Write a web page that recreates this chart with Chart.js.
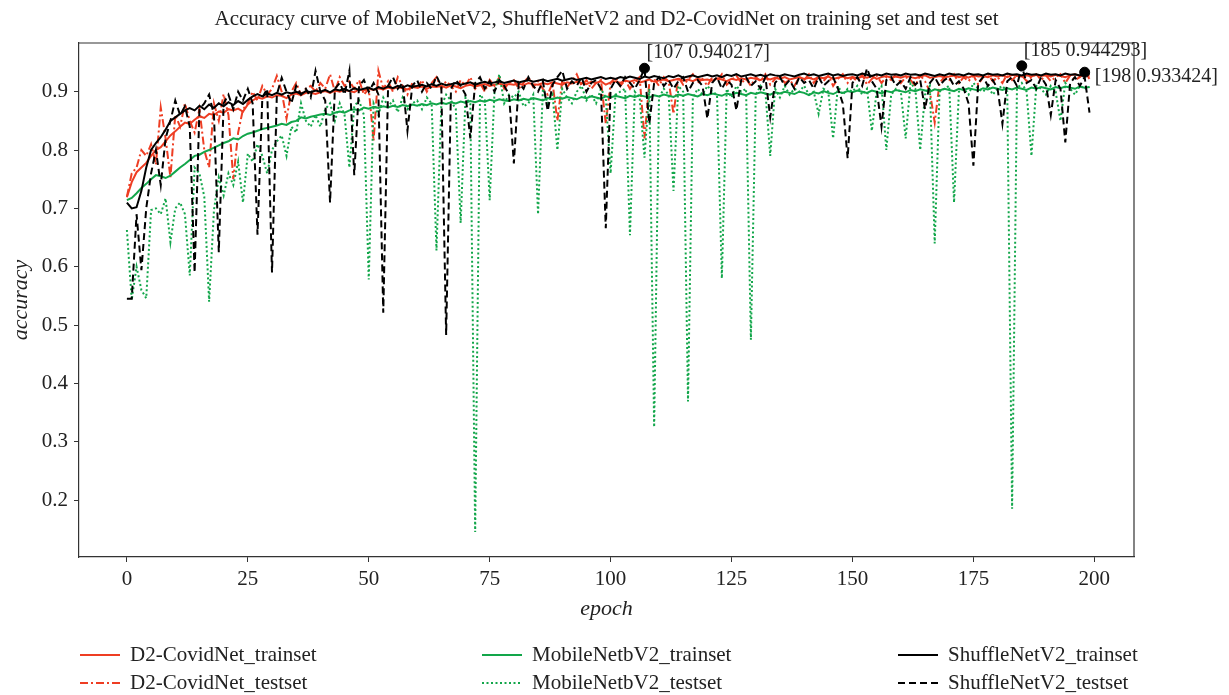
<!DOCTYPE html>
<html><head><meta charset="utf-8">
<script src="https://cdn.jsdelivr.net/npm/chart.js@4.4.0/dist/chart.umd.min.js"></script>
<style>html,body{margin:0;padding:0;background:#fff;} canvas{display:block;}</style>
</head><body>
<canvas id="c" width="1229" height="695"></canvas>
<script>
const titleText = "Accuracy curve of MobileNetV2, ShuffleNetV2 and D2-CovidNet on training set and test set";
const xTicks = [0,25,50,75,100,125,150,175,200];
const yTicks = [0.2,0.3,0.4,0.5,0.6,0.7,0.8,0.9];
const seriesNames = ["D2-CovidNet_trainset","D2-CovidNet_testset","MobileNetbV2_trainset","MobileNetbV2_testset","ShuffleNetV2_trainset","ShuffleNetV2_testset"];

const d2Train = [
0.719,0.745,0.762,0.770,0.778,0.790,0.800,0.805,0.815,0.825,
0.832,0.840,0.847,0.845,0.852,0.858,0.855,0.862,0.860,0.866,
0.864,0.870,0.868,0.871,0.866,0.878,0.885,0.890,0.888,0.892,
0.890,0.894,0.893,0.889,0.895,0.897,0.894,0.898,0.898,0.896,
0.899,0.901,0.898,0.902,0.900,0.903,0.901,0.899,0.904,0.902,
0.905,0.903,0.906,0.904,0.907,0.905,0.908,0.906,0.904,0.908,
0.907,0.909,0.905,0.909,0.908,0.910,0.907,0.911,0.909,0.906,
0.910,0.912,0.909,0.911,0.913,0.910,0.912,0.914,0.911,0.913,
0.912,0.914,0.911,0.915,0.913,0.912,0.915,0.913,0.916,0.914,
0.912,0.916,0.914,0.917,0.915,0.913,0.917,0.915,0.918,0.912,
0.916,0.918,0.915,0.919,0.917,0.920,0.916,0.918,0.921,0.917,
0.919,0.921,0.918,0.920,0.922,0.919,0.921,0.918,0.922,0.920,
0.921,0.919,0.923,0.921,0.918,0.922,0.920,0.923,0.921,0.924,
0.922,0.920,0.923,0.921,0.924,0.922,0.925,0.921,0.923,0.925,
0.922,0.924,0.921,0.925,0.923,0.926,0.922,0.924,0.926,0.923,
0.925,0.923,0.926,0.924,0.927,0.922,0.925,0.927,0.924,0.926,
0.924,0.927,0.925,0.923,0.926,0.928,0.924,0.925,0.927,0.925,
0.926,0.928,0.925,0.927,0.924,0.928,0.926,0.927,0.925,0.928,
0.926,0.928,0.925,0.929,0.927,0.926,0.928,0.926,0.929,0.927,
0.928,0.926,0.929,0.927,0.925,0.928,0.930,0.927,0.929,0.926];

const d2Test = [
0.720,0.760,0.770,0.800,0.790,0.810,0.775,0.873,0.820,0.753,
0.860,0.840,0.880,0.850,0.830,0.870,0.800,0.770,0.880,0.850,
0.896,0.860,0.750,0.830,0.870,0.880,0.900,0.885,0.910,0.895,
0.905,0.927,0.900,0.854,0.900,0.915,0.895,0.905,0.910,0.900,
0.915,0.905,0.930,0.900,0.925,0.910,0.918,0.905,0.920,0.895,
0.905,0.816,0.936,0.905,0.918,0.900,0.925,0.910,0.895,0.915,
0.905,0.920,0.900,0.915,0.925,0.905,0.918,0.910,0.900,0.920,
0.910,0.925,0.905,0.915,0.900,0.920,0.910,0.925,0.905,0.915,
0.920,0.905,0.915,0.925,0.908,0.918,0.905,0.895,0.915,0.850,
0.920,0.908,0.918,0.930,0.910,0.920,0.905,0.915,0.920,0.845,
0.915,0.925,0.910,0.920,0.905,0.918,0.925,0.820,0.915,0.922,
0.910,0.925,0.918,0.862,0.925,0.912,0.920,0.930,0.915,0.922,
0.910,0.925,0.918,0.930,0.912,0.920,0.928,0.915,0.922,0.910,
0.925,0.918,0.930,0.912,0.922,0.928,0.915,0.920,0.910,0.925,
0.920,0.930,0.915,0.925,0.918,0.928,0.910,0.922,0.930,0.915,
0.925,0.918,0.930,0.912,0.922,0.928,0.915,0.925,0.920,0.930,
0.915,0.925,0.920,0.910,0.928,0.918,0.900,0.847,0.915,0.925,
0.920,0.930,0.915,0.925,0.918,0.928,0.912,0.925,0.930,0.918,
0.925,0.915,0.930,0.920,0.928,0.928,0.918,0.925,0.930,0.920,
0.928,0.918,0.925,0.930,0.915,0.928,0.920,0.925,0.933,0.922];

const mobileTrain = [
0.714,0.718,0.726,0.735,0.742,0.750,0.757,0.755,0.752,0.756,
0.763,0.770,0.776,0.783,0.790,0.792,0.797,0.800,0.804,0.808,
0.812,0.815,0.820,0.818,0.824,0.828,0.830,0.833,0.836,0.838,
0.840,0.842,0.845,0.843,0.848,0.850,0.856,0.854,0.857,0.859,
0.861,0.862,0.860,0.864,0.866,0.864,0.868,0.870,0.868,0.873,
0.871,0.874,0.872,0.875,0.873,0.876,0.874,0.877,0.875,0.878,
0.876,0.879,0.877,0.880,0.878,0.881,0.879,0.882,0.880,0.883,
0.881,0.884,0.882,0.885,0.883,0.886,0.884,0.887,0.885,0.884,
0.887,0.885,0.888,0.886,0.889,0.887,0.885,0.889,0.887,0.890,
0.888,0.891,0.889,0.887,0.891,0.889,0.892,0.890,0.888,0.892,
0.890,0.893,0.891,0.889,0.893,0.891,0.894,0.892,0.890,0.894,
0.892,0.895,0.893,0.891,0.895,0.893,0.896,0.894,0.892,0.896,
0.894,0.897,0.895,0.893,0.897,0.895,0.898,0.896,0.894,0.898,
0.896,0.899,0.897,0.895,0.899,0.897,0.900,0.898,0.896,0.900,
0.898,0.894,0.899,0.897,0.901,0.898,0.896,0.900,0.898,0.901,
0.899,0.902,0.900,0.898,0.902,0.900,0.897,0.901,0.899,0.903,
0.901,0.899,0.903,0.901,0.904,0.902,0.900,0.904,0.902,0.905,
0.903,0.901,0.905,0.903,0.906,0.904,0.902,0.906,0.904,0.907,
0.905,0.903,0.906,0.904,0.907,0.905,0.903,0.907,0.905,0.908,
0.906,0.904,0.908,0.906,0.909,0.907,0.905,0.909,0.907,0.908];

const mobileTest = [
0.663,0.543,0.600,0.560,0.546,0.697,0.700,0.690,0.717,0.642,
0.700,0.710,0.690,0.585,0.770,0.760,0.720,0.540,0.697,0.753,
0.722,0.760,0.740,0.780,0.710,0.794,0.780,0.810,0.790,0.760,
0.800,0.815,0.825,0.790,0.840,0.830,0.880,0.850,0.840,0.860,
0.840,0.870,0.880,0.850,0.880,0.860,0.770,0.875,0.885,0.860,
0.578,0.880,0.860,0.890,0.875,0.885,0.865,0.890,0.870,0.880,
0.885,0.870,0.890,0.880,0.628,0.875,0.895,0.885,0.870,0.675,
0.890,0.880,0.145,0.895,0.885,0.714,0.900,0.930,0.880,0.895,
0.890,0.900,0.875,0.880,0.895,0.690,0.905,0.880,0.895,0.800,
0.905,0.890,0.880,0.900,0.910,0.885,0.895,0.880,0.905,0.890,
0.760,0.895,0.900,0.905,0.654,0.900,0.890,0.787,0.905,0.325,
0.890,0.905,0.895,0.730,0.910,0.900,0.369,0.890,0.905,0.895,
0.910,0.900,0.895,0.580,0.905,0.890,0.910,0.900,0.905,0.475,
0.895,0.910,0.900,0.790,0.905,0.890,0.910,0.895,0.905,0.900,
0.910,0.895,0.900,0.862,0.905,0.900,0.820,0.910,0.895,0.905,
0.900,0.910,0.895,0.905,0.833,0.900,0.910,0.800,0.895,0.905,
0.900,0.820,0.915,0.905,0.800,0.895,0.910,0.640,0.900,0.905,
0.910,0.710,0.900,0.905,0.895,0.915,0.905,0.900,0.910,0.895,
0.905,0.910,0.900,0.185,0.905,0.915,0.900,0.790,0.910,0.905,
0.895,0.910,0.900,0.850,0.915,0.905,0.895,0.910,0.905,0.908];

const shuffleTrain = [
0.710,0.700,0.702,0.730,0.770,0.800,0.812,0.822,0.835,0.850,
0.856,0.862,0.868,0.872,0.868,0.876,0.870,0.878,0.872,0.880,
0.875,0.882,0.877,0.884,0.879,0.886,0.892,0.896,0.892,0.897,
0.894,0.898,0.895,0.899,0.897,0.900,0.896,0.901,0.899,0.902,
0.900,0.903,0.899,0.904,0.902,0.905,0.901,0.906,0.903,0.905,
0.907,0.903,0.908,0.905,0.909,0.906,0.910,0.907,0.911,0.908,
0.910,0.912,0.909,0.913,0.910,0.914,0.911,0.913,0.915,0.912,
0.914,0.916,0.912,0.915,0.917,0.914,0.916,0.918,0.915,0.917,
0.919,0.916,0.918,0.920,0.917,0.919,0.921,0.918,0.920,0.922,
0.919,0.921,0.923,0.920,0.922,0.924,0.921,0.923,0.925,0.922,
0.924,0.922,0.925,0.923,0.926,0.924,0.922,0.926,0.924,0.927,
0.925,0.923,0.927,0.925,0.928,0.924,0.926,0.928,0.925,0.927,
0.929,0.926,0.928,0.925,0.929,0.927,0.930,0.926,0.928,0.930,
0.927,0.929,0.926,0.930,0.928,0.927,0.930,0.928,0.926,0.929,
0.931,0.928,0.930,0.927,0.929,0.931,0.928,0.930,0.927,0.929,
0.930,0.928,0.931,0.929,0.927,0.930,0.928,0.931,0.929,0.930,
0.928,0.931,0.929,0.930,0.928,0.931,0.929,0.927,0.930,0.928,
0.931,0.929,0.930,0.928,0.931,0.929,0.930,0.928,0.931,0.929,
0.930,0.928,0.931,0.929,0.930,0.928,0.931,0.929,0.930,0.928,
0.931,0.929,0.930,0.928,0.931,0.929,0.930,0.928,0.931,0.930];

const shuffleTest = [
0.545,0.545,0.690,0.594,0.700,0.760,0.800,0.740,0.820,0.850,
0.885,0.860,0.875,0.840,0.590,0.870,0.880,0.895,0.860,0.625,
0.880,0.895,0.870,0.900,0.885,0.905,0.880,0.655,0.890,0.905,
0.590,0.895,0.924,0.900,0.880,0.910,0.895,0.905,0.890,0.936,
0.900,0.885,0.710,0.905,0.915,0.895,0.936,0.757,0.910,0.920,
0.900,0.915,0.895,0.521,0.910,0.925,0.905,0.915,0.833,0.910,
0.920,0.900,0.915,0.905,0.927,0.910,0.483,0.905,0.920,0.910,
0.895,0.820,0.915,0.925,0.905,0.918,0.900,0.920,0.910,0.895,
0.777,0.915,0.905,0.925,0.910,0.900,0.918,0.867,0.912,0.925,
0.936,0.905,0.918,0.910,0.925,0.900,0.915,0.920,0.905,0.666,
0.905,0.920,0.910,0.925,0.915,0.905,0.920,0.940,0.845,0.915,
0.925,0.910,0.920,0.905,0.918,0.925,0.900,0.915,0.920,0.910,
0.854,0.915,0.925,0.905,0.920,0.912,0.868,0.920,0.925,0.910,
0.918,0.905,0.925,0.856,0.915,0.925,0.910,0.920,0.905,0.925,
0.915,0.920,0.905,0.925,0.910,0.918,0.925,0.905,0.880,0.786,
0.915,0.925,0.910,0.940,0.918,0.905,0.840,0.920,0.925,0.910,
0.918,0.905,0.925,0.912,0.920,0.870,0.915,0.925,0.910,0.920,
0.925,0.910,0.918,0.905,0.880,0.773,0.915,0.925,0.910,0.920,
0.905,0.845,0.918,0.925,0.910,0.944,0.915,0.920,0.905,0.925,
0.912,0.860,0.920,0.905,0.813,0.915,0.925,0.910,0.925,0.864];

const peakEpochs = [107,185,198];
const peakValues = [0.940217,0.944293,0.933424];
const peakLabels = ["[107 0.940217]","[185 0.944293]","[198 0.933424]"];

const RED = '#ee3d23', GREEN = '#12a64a', BLACK = '#000000';
const FONT = "'Liberation Serif', 'DejaVu Serif', serif";

function pts(arr){ return arr.map((v,i)=>({x:i,y:v})); }

const styles = [
  {data:d2Train, color:RED, dash:[], width:2, order:6},
  {data:d2Test, color:RED, dash:[8,3,2,3], width:2, order:5},
  {data:mobileTrain, color:GREEN, dash:[], width:2, order:4},
  {data:mobileTest, color:GREEN, dash:[2,2.5], width:2, order:3},
  {data:shuffleTrain, color:BLACK, dash:[], width:2, order:2},
  {data:shuffleTest, color:BLACK, dash:[7,4], width:2, order:1}
];

const datasets = styles.map((s,i)=>({
  label: seriesNames[i], data: pts(s.data), borderColor: s.color, backgroundColor: s.color,
  borderWidth: s.width, borderDash: s.dash, pointRadius: 0, tension: 0, fill:false, order: s.order
}));
datasets.push({
  type:'scatter', label:'peaks', data: peakEpochs.map((e,i)=>({x:e,y:peakValues[i]})),
  pointRadius:5, pointBackgroundColor:'#000', pointBorderColor:'#000', order:0, showLine:false
});

const legendPos = [
  {x:80,y:655},{x:80,y:683},{x:482,y:655},{x:482,y:683},{x:898,y:655},{x:898,y:683}
];
const peakOffsets = [{dx:2,dy:-15},{dx:2,dy:-15},{dx:10,dy:5}];

const decor = {
  id:'decor',
  afterDraw(chart){
    const ctx = chart.ctx, ca = chart.chartArea;
    ctx.save();
    ctx.strokeStyle = '#333'; ctx.lineWidth = 1.2; ctx.setLineDash([]);
    ctx.beginPath(); ctx.moveTo(ca.left, ca.top); ctx.lineTo(ca.right, ca.top); ctx.lineTo(ca.right, ca.bottom); ctx.stroke();
    ctx.fillStyle = '#222'; ctx.font = "21px " + FONT; ctx.textAlign='center'; ctx.textBaseline='middle';
    ctx.fillText(titleText, (ca.left+ca.right)/2, 19);
    ctx.font = "italic 22px " + FONT;
    ctx.fillText('epoch', (ca.left+ca.right)/2, 609);
    ctx.save(); ctx.translate(21, (ca.top+ca.bottom)/2); ctx.rotate(-Math.PI/2); ctx.fillText('accuracy',0,0); ctx.restore();
    ctx.font = "20px " + FONT; ctx.textAlign='left'; ctx.fillStyle='#222';
    const xs = chart.scales.x, ys = chart.scales.y;
    peakEpochs.forEach((e,i)=>{
      const px = xs.getPixelForValue(e), py = ys.getPixelForValue(peakValues[i]);
      ctx.fillText(peakLabels[i], px+peakOffsets[i].dx, py+peakOffsets[i].dy);
    });
    ctx.font = "21px " + FONT;
    styles.forEach((s,i)=>{
      const p = legendPos[i];
      ctx.strokeStyle = s.color; ctx.lineWidth = 2; ctx.setLineDash(s.dash);
      ctx.beginPath(); ctx.moveTo(p.x, p.y); ctx.lineTo(p.x+40, p.y); ctx.stroke();
      ctx.setLineDash([]);
      ctx.fillStyle = '#222';
      ctx.fillText(seriesNames[i], p.x+50, p.y);
    });
    ctx.restore();
  }
};

new Chart(document.getElementById('c'), {
  type:'line',
  data:{datasets},
  options:{
    responsive:false, animation:false, devicePixelRatio:1,
    layout:{padding:{left:0,right:95,top:43,bottom:108}},
    plugins:{legend:{display:false}, tooltip:{enabled:false}, title:{display:false}},
    scales:{
      x:{type:'linear', min:-9.9, max:208.2,
        afterBuildTicks:s=>{s.ticks = xTicks.map(v=>({value:v}));},
        afterFit:s=>{s.height=30;},
        grid:{drawOnChartArea:false, drawTicks:true, tickLength:5, color:'#333'},
        border:{display:true, color:'#333', width:1.2},
        ticks:{autoSkip:false, maxRotation:0, padding:5, color:'#222', font:{family:FONT, size:21}, callback:v=>String(v)}
      },
      y:{type:'linear', min:0.1023, max:0.9835,
        afterBuildTicks:s=>{s.ticks = yTicks.map(v=>({value:v}));},
        afterFit:s=>{s.width=79;},
        grid:{drawOnChartArea:false, drawTicks:true, tickLength:5, color:'#333'},
        border:{display:true, color:'#333', width:1.2},
        ticks:{autoSkip:false, padding:6, color:'#222', font:{family:FONT, size:21}, callback:v=>Number(v).toFixed(1)}
      }
    }
  },
  plugins:[decor]
});
</script>
</body></html>
